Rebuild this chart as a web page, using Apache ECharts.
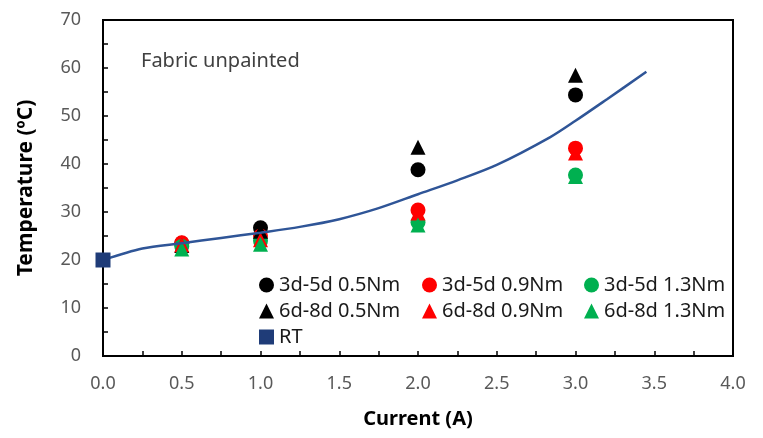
<!DOCTYPE html>
<html>
<head>
<meta charset="utf-8">
<script src="https://cdn.jsdelivr.net/npm/echarts@6/dist/echarts.min.js"></script>
<style>html,body{margin:0;padding:0;background:#fff}#c{width:763px;height:438px}</style>
</head>
<body>
<div id="c"></div>
<script>
// ---- data ----
const currents = [0.5, 1.0, 2.0, 3.0];
const d35_05 = [23.5, 26.7, 38.8, 54.4];
const d35_09 = [23.6, 25.0, 30.4, 43.3];
const d35_13 = [22.8, 24.0, 27.8, 37.7];
const d68_05 = [23.0, 26.0, 43.5, 58.5];
const d68_09 = [23.2, 24.2, 29.8, 42.3];
const d68_13 = [22.3, 23.3, 27.3, 37.4];
const rtX = [0.0];
const rtY = [20.0];
const trendX = [0.0, 0.25, 0.5, 0.75, 1.0, 1.25, 1.5, 1.75, 2.0, 2.25, 2.5, 2.84, 3.0, 3.2, 3.45];
const trendY = [20.0, 22.4, 23.5, 24.6, 25.7, 26.9, 28.5, 30.8, 33.7, 36.6, 39.8, 45.6, 49.0, 53.5, 59.2];
const xTicks = [0, 0.5, 1.0, 1.5, 2.0, 2.5, 3.0, 3.5, 4.0];
const yTicks = [0, 10, 20, 30, 40, 50, 60, 70];

const names = ['3d-5d 0.5Nm','3d-5d 0.9Nm','3d-5d 1.3Nm','6d-8d 0.5Nm','6d-8d 0.9Nm','6d-8d 1.3Nm','RT'];
const pair = (xs, ys) => xs.map((x, i) => [x, ys[i]]);

const BLACK = '#000000', RED = '#FF0000', GREEN = '#00B050', NAVY = '#1F3C78', LINE = '#2F5597';
const FONT = 'Noto Sans';

function sc(name, vals, color, symbol, z) {
  return { name, type: 'scatter', data: pair(currents, vals), symbol, symbolSize: 15,
    itemStyle: { color, opacity: 1 }, z };
}

const chart = echarts.init(document.getElementById('c'), null, { renderer: 'canvas' });
const legendBase = {
  orient: 'vertical', itemWidth: 15, itemHeight: 15, itemGap: 6,
  textStyle: { fontFamily: FONT, fontSize: 20, color: '#1a1a1a', lineHeight: 20 },
  selectedMode: false, top: 270
};
chart.setOption({
  animation: false,
  backgroundColor: '#fff',
  title: { text: 'Fabric unpainted', left: 136, top: 46,
    textStyle: { fontFamily: FONT, fontSize: 20, fontWeight: 'normal', color: '#404040' } },
  grid: { left: 103, right: 30, top: 20, bottom: 82, show: true, borderColor: '#000', borderWidth: 2 },
  legend: [
    Object.assign({}, legendBase, { left: 254, data: [names[0], names[3], names[6]] }),
    Object.assign({}, legendBase, { left: 417, data: [names[1], names[4]] }),
    Object.assign({}, legendBase, { left: 579, data: [names[2], names[5]] })
  ],
  xAxis: {
    type: 'value', min: 0, max: 4, interval: 0.25,
    name: 'Current (A)', nameLocation: 'middle', nameGap: 53,
    nameTextStyle: { fontFamily: FONT, fontSize: 20, fontWeight: 'bold', color: '#000' },
    axisLine: { show: true, onZero: false, lineStyle: { color: '#000', width: 2 } },
    axisTick: { show: true, inside: true, length: 5, lineStyle: { color: '#000', width: 1.5 } },
    splitLine: { show: false },
    axisLabel: { margin: 19, fontFamily: FONT, fontSize: 18, color: '#595959',
      formatter: v => { const m = xTicks.find(t => Math.abs(t - v) < 1e-6); return m === undefined ? '' : m.toFixed(1); } }
  },
  yAxis: {
    type: 'value', min: 0, max: 70, interval: 5,
    name: 'Temperature (ºC)', nameLocation: 'middle', nameGap: 66,
    nameTextStyle: { fontFamily: FONT, fontSize: 21, fontWeight: 'bold', color: '#000' },
    axisLine: { show: true, onZero: false, lineStyle: { color: '#000', width: 2 } },
    axisTick: { show: true, inside: true, length: 5, lineStyle: { color: '#000', width: 1.5 } },
    splitLine: { show: false },
    axisLabel: { margin: 22, fontFamily: FONT, fontSize: 18, color: '#595959',
      formatter: v => { const m = yTicks.find(t => Math.abs(t - v) < 1e-6); return m === undefined ? '' : String(m); } }
  },
  series: [
    sc(names[0], d35_05, BLACK, 'circle', 2),
    sc(names[1], d35_09, RED, 'circle', 2),
    sc(names[2], d35_13, GREEN, 'circle', 2),
    sc(names[3], d68_05, BLACK, 'triangle', 2),
    sc(names[4], d68_09, RED, 'triangle', 2),
    sc(names[5], d68_13, GREEN, 'triangle', 2),
    { name: 'trend', type: 'line', data: pair(trendX, trendY), smooth: 0.3, showSymbol: false, symbol: 'none',
      lineStyle: { color: LINE, width: 2.5 }, z: 3, silent: true },
    { name: names[6], type: 'scatter', data: pair(rtX, rtY), symbol: 'rect', symbolSize: 15,
      itemStyle: { color: NAVY, opacity: 1 }, z: 4 }
  ]
});
</script>
</body>
</html>
